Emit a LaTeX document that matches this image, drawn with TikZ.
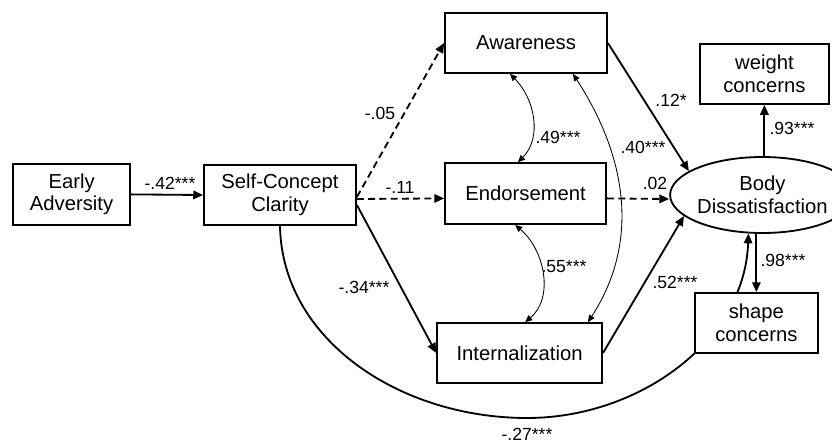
\documentclass[tikz,border=0pt]{standalone}
\usepackage{fontspec}
\setmainfont{Liberation Sans}
\usetikzlibrary{arrows.meta,shapes.geometric,backgrounds}

\begin{document}
\begin{tikzpicture}[
        box/.style={rectangle, draw, fill=white, line width=1.3pt, align=center, minimum width=#1, minimum height=1.5cm, inner sep=0pt, font=\fontsize{14.4}{16}\selectfont},
        latent/.style={ellipse, draw, fill=white, line width=1.3pt, align=center, minimum width=3.525cm, minimum height=1.9cm, inner sep=0pt, font=\fontsize{14.4}{16}\selectfont},
        effect/.style={line width=1.3pt, -{Triangle[length=7pt,width=6pt]}},
        nseffect/.style={effect, dash pattern=on 5pt off 3pt},
        cov/.style={line width=0.6pt, {Triangle[length=5pt,width=4.5pt]}-{Triangle[length=5pt,width=4.5pt]}},
        coef/.style={inner sep=0.5pt, font=\fontsize{12.5}{14}\selectfont}
      ]
      \useasboundingbox (0,0) rectangle (20.8,-11.075);
      \node[box=2.925cm, minimum height=1.525cm] (ea) at (1.79,-4.86) {Early\\Adversity};
      \node[box=3.8cm] (scc) at (7.0,-4.875) {Self-Concept\\Clarity};
      \node[box=4.05cm] (aw) at (13.15,-1.075) {Awareness};
      \node[box=4.025cm, minimum height=1.525cm] (en) at (13.14,-4.84) {Endorsement};
      \node[box=4.125cm] (in) at (12.99,-8.825) {Internalization};
      \node[latent] (bd) at (19.06,-4.875) {Body\\Dissatisfaction};
      \node[box=3.225cm] (wc) at (19.11,-1.85) {weight\\concerns};
      \node[box=3.075cm] (sc) at (18.91,-8.075) {shape\\concerns};

      \begin{scope}[on background layer]
        \draw[effect] (scc.south) .. controls (7.05,-8.5) and (10,-10.45) .. (13.175,-10.45)
          .. controls (16,-10.45) and (18.625,-8.5) .. (bd.250);
      \end{scope}

      \draw[effect] (ea.east) -- (scc.west);
      \draw[nseffect] ([yshift=-0.05cm]scc.east) -- (aw.west);
      \draw[nseffect] ([yshift=-0.1cm]scc.east) -- ([yshift=-0.12cm]en.west);
      \draw[effect] ([yshift=-0.25cm]scc.east) -- (in.west);
      \draw[effect] (aw.east) -- (bd.162);
      \draw[nseffect] ([yshift=-0.12cm]en.east) -- ([yshift=-0.1cm]bd.west);
      \draw[effect] (in.east) -- (bd.195);
      \draw[effect] (wc.south |- bd.north) -- (wc.south);
      \draw[effect] (sc.north |- bd.south) -- (sc.north);

      \draw[cov] ([xshift=-0.4cm]aw.south) to[out=-45, in=45] ([xshift=-0.19cm]en.north);
      \draw[cov] ([xshift=-0.26cm]en.south) to[out=-40, in=40] ([xshift=0.14cm]in.north);
      \draw[cov] ([xshift=1.175cm]aw.south) to[out=-57, in=57] ([xshift=1.71cm]in.north);

      \node[coef] (l1) at (4.25,-4.575) {-.42***};
      \node[coef] (l2) at (9.5,-2.825) {-.05};
      \node[coef] (l3) at (10.0,-4.675) {-.11};
      \node[coef] (l4) at (9.1,-7.175) {-.34***};
      \node[coef] (l5) at (16.775,-2.5) {.12*};
      \node[coef] (l6) at (13.95,-3.425) {.49***};
      \node[coef] (l7) at (16.075,-3.675) {.40***};
      \node[coef] (l8) at (16.375,-4.575) {.02};
      \node[coef] (l9) at (19.8,-3.2) {.93***};
      \node[coef] (l10) at (14.1,-6.675) {.55***};
      \node[coef] (l11) at (16.875,-7.05) {.52***};
      \node[coef] (l12) at (19.575,-6.5) {.98***};
      \node[coef] (l13) at (13.175,-10.86) {-.27***};
    \end{tikzpicture}
\end{document}
